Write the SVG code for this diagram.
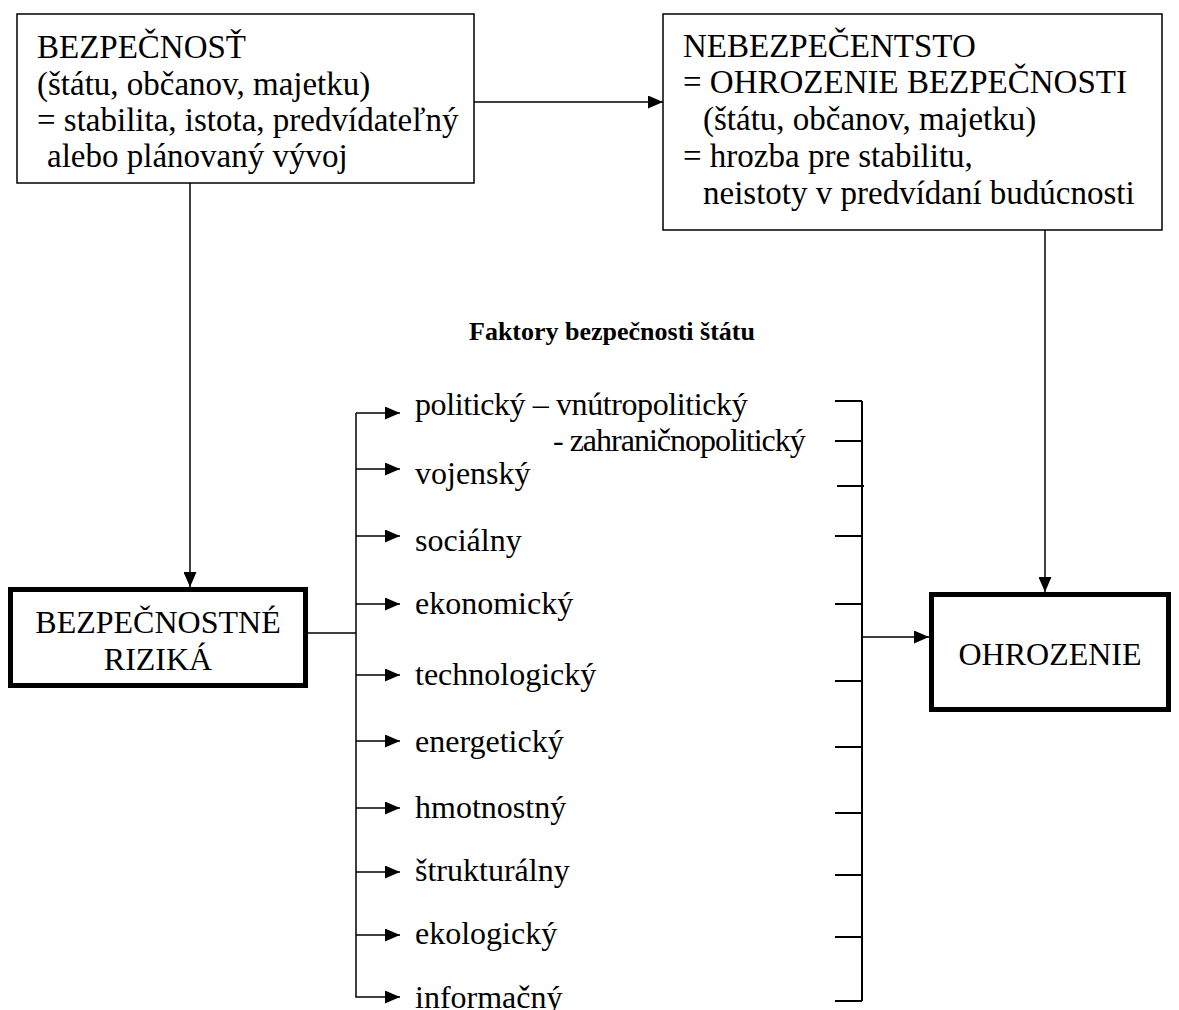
<svg xmlns="http://www.w3.org/2000/svg" width="1179" height="1010" viewBox="0 0 1179 1010">
<defs>
<marker id="ah" markerWidth="15" markerHeight="13" refX="15" refY="6.5" orient="auto" markerUnits="userSpaceOnUse">
<path d="M0,0 L15,6.5 L0,13 Z" fill="#000"/>
</marker>
<style>
text{font-family:"Liberation Serif","Times New Roman",serif;font-size:32px;fill:#000}
.bx{font-size:33px}
.b{font-weight:bold;font-size:26px}
.thin{fill:#fff;stroke:#000;stroke-width:1.5}
.thick{fill:#fff;stroke:#000;stroke-width:5}
.ln{stroke:#000;stroke-width:1.5;fill:none}
.tk{stroke:#000;stroke-width:2;fill:none}
.c{text-anchor:middle}
</style>
</defs>
<rect width="1179" height="1010" fill="#fff"/>
<g id="connectors">
<line class="ln" x1="474" y1="102" x2="663" y2="102" marker-end="url(#ah)"/>
<line class="ln" x1="190" y1="183" x2="190" y2="587" marker-end="url(#ah)"/>
<line class="ln" x1="1045" y1="230" x2="1045" y2="592" marker-end="url(#ah)"/>
<line class="ln" x1="308" y1="633" x2="356" y2="633"/>
<polyline class="ln" points="356,413 356,997 400,997" marker-end="url(#ah)"/>
<line class="ln" x1="356" y1="413" x2="400" y2="413" marker-end="url(#ah)"/>
<line class="ln" x1="356" y1="469" x2="400" y2="469" marker-end="url(#ah)"/>
<line class="ln" x1="356" y1="536" x2="400" y2="536" marker-end="url(#ah)"/>
<line class="ln" x1="356" y1="604" x2="400" y2="604" marker-end="url(#ah)"/>
<line class="ln" x1="356" y1="675" x2="400" y2="675" marker-end="url(#ah)"/>
<line class="ln" x1="356" y1="741" x2="400" y2="741" marker-end="url(#ah)"/>
<line class="ln" x1="356" y1="808" x2="400" y2="808" marker-end="url(#ah)"/>
<line class="ln" x1="356" y1="872" x2="400" y2="872" marker-end="url(#ah)"/>
<line class="ln" x1="356" y1="935" x2="400" y2="935" marker-end="url(#ah)"/>
<line class="tk" x1="862" y1="401" x2="862" y2="1001"/>
<line class="tk" x1="835" y1="401" x2="862" y2="401"/>
<line class="tk" x1="835" y1="441" x2="862" y2="441"/>
<line class="tk" x1="837" y1="486" x2="864" y2="486"/>
<line class="tk" x1="835" y1="536" x2="862" y2="536"/>
<line class="tk" x1="835" y1="604" x2="862" y2="604"/>
<line class="tk" x1="835" y1="681" x2="862" y2="681"/>
<line class="tk" x1="835" y1="747" x2="862" y2="747"/>
<line class="tk" x1="835" y1="813" x2="862" y2="813"/>
<line class="tk" x1="835" y1="875" x2="862" y2="875"/>
<line class="tk" x1="835" y1="937" x2="862" y2="937"/>
<line class="tk" x1="835" y1="1001" x2="862" y2="1001"/>
<line class="ln" x1="862" y1="637" x2="929" y2="637" marker-end="url(#ah)"/>
</g>
<g id="bezpecnost">
<rect class="thin" x="17" y="14" width="457" height="169"/>
<text class="bx" x="37" y="58">BEZPEČNOSŤ</text>
<text class="bx" x="37" y="95">(štátu, občanov, majetku)</text>
<text class="bx" x="37" y="131">= stabilita, istota, predvídateľný</text>
<text class="bx" x="47" y="167">alebo plánovaný vývoj</text>
</g>
<g id="nebezpecenstvo">
<rect class="thin" x="663" y="14" width="499" height="216"/>
<text class="bx" x="683" y="57">NEBEZPEČENTSTO</text>
<text class="bx" x="683" y="93">= OHROZENIE BEZPEČNOSTI</text>
<text class="bx" x="703" y="130">(štátu, občanov, majetku)</text>
<text class="bx" x="683" y="167">= hrozba pre stabilitu,</text>
<text class="bx" x="703" y="204">neistoty v predvídaní budúcnosti</text>
</g>
<g id="title">
<text class="b c" x="612" y="340">Faktory bezpečnosti štátu</text>
</g>
<g id="rizika">
<rect class="thick" x="10.5" y="589.5" width="295" height="96"/>
<text class="c" x="158" y="633">BEZPEČNOSTNÉ</text>
<text class="c" x="158" y="670">RIZIKÁ</text>
</g>
<g id="faktory">
<text x="415" y="415" letter-spacing="-0.4">politický – vnútropolitický</text>
<text x="553" y="451" letter-spacing="-1">- zahraničnopolitický</text>
<text x="415" y="484">vojenský</text>
<text x="415" y="551">sociálny</text>
<text x="415" y="614">ekonomický</text>
<text x="415" y="685">technologický</text>
<text x="415" y="752">energetický</text>
<text x="415" y="818">hmotnostný</text>
<text x="415" y="881">štrukturálny</text>
<text x="415" y="944">ekologický</text>
<text x="415" y="1008">informačný</text>
</g>
<g id="ohrozenie">
<rect class="thick" x="931.5" y="594.5" width="237" height="115"/>
<text class="c" x="1050" y="665">OHROZENIE</text>
</g>
</svg>
